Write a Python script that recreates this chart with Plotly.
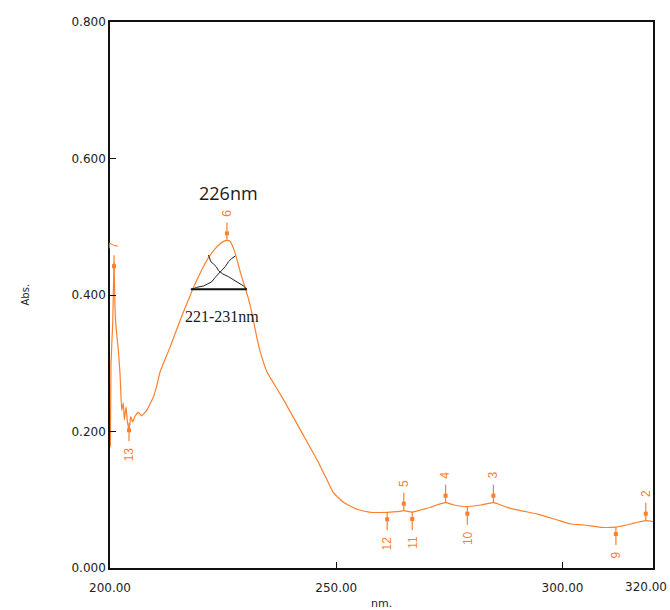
import plotly.graph_objects as go

# ---------------- data ----------------
wavelength = [200.0, 200.07, 200.22, 200.6, 200.89, 201.1, 201.33, 201.84, 202.2, 202.37,
              202.6, 202.94, 203.17, 203.54, 203.8, 204.2, 204.6, 205.0, 205.5, 206.3,
              207.0, 208.1, 209.6, 210.3, 211.1, 213.3, 215.5, 217.7, 218.44, 219.92,
              221.41, 222.87, 224.35, 225.2, 225.84, 226.5, 226.94, 227.67, 228.78, 229.89,
              230.62, 231.4, 232.5, 233.2, 234.7, 235.4, 238.4, 242.1, 245.8, 248.7,
              249.4, 251.65, 254.6, 257.6, 261.26, 263.47, 264.93, 266.79, 268.63, 270.84,
              271.58, 274.16, 276.0, 278.97, 281.91, 284.73, 287.82, 290.77, 294.5, 298.9,
              301.8, 304.8, 308.5, 311.8, 315.1, 316.6, 318.4, 320.0]
absorbance = [0.177, 0.180, 0.300, 0.359, 0.447, 0.382, 0.353, 0.319, 0.286, 0.261,
              0.231, 0.242, 0.217, 0.236, 0.217, 0.202, 0.222, 0.214, 0.222, 0.228,
              0.223, 0.231, 0.251, 0.266, 0.288, 0.324, 0.363, 0.399, 0.411, 0.432,
              0.451, 0.465, 0.475, 0.479, 0.480, 0.479, 0.474, 0.461, 0.434, 0.410,
              0.394, 0.372, 0.336, 0.317, 0.287, 0.279, 0.246, 0.202, 0.158, 0.119,
              0.110, 0.096, 0.086, 0.0816, 0.0816, 0.0825, 0.084, 0.082, 0.085, 0.089,
              0.0908, 0.0957, 0.0923, 0.0898, 0.0923, 0.0957, 0.0889, 0.084, 0.079, 0.0703,
              0.0645, 0.063, 0.0596, 0.060, 0.0645, 0.067, 0.0693, 0.0678]

# peak / valley picks (direction +1 = peak, -1 = valley)
pick_labels = ["2", "3", "4", "5", "6", "7", "9", "10", "11", "12", "13"]
pick_nm = [318.4, 284.73, 274.16, 264.93, 225.84, 200.89, 311.8, 278.97, 266.79, 261.26, 204.2]
pick_abs = [0.0693, 0.0957, 0.0957, 0.084, 0.480, 0.432, 0.060, 0.0898, 0.082, 0.0816, 0.212]
pick_dir = [1, 1, 1, 1, 1, 1, -1, -1, -1, -1, -1]

# bandwidth annotation (triangle) drawn by the instrument software
band_base_nm = [217.87, 230.26]
band_base_abs = [0.4084, 0.4084]
band_a_nm = [218.09, 219.19, 220.66, 221.41, 222.51, 223.25, 223.98, 224.73, 225.46, 226.19, 226.94, 227.67]
band_a_abs = [0.4084, 0.4113, 0.4132, 0.4161, 0.4194, 0.4259, 0.4308, 0.4366, 0.4415, 0.4488, 0.4538, 0.4571]
band_b_nm = [221.76, 222.29, 222.87, 223.47, 223.98, 224.95, 226.19, 227.3, 228.4, 229.51, 230.26]
band_b_abs = [0.4586, 0.4488, 0.4454, 0.4415, 0.4356, 0.4308, 0.4268, 0.4220, 0.4180, 0.4132, 0.4084]

x_ticks = [200, 250, 300, 320]
x_ticktext = ["200.00", "250.00", "300.00", "320.00"]
y_ticks = [0.0, 0.2, 0.4, 0.6, 0.8]
y_ticktext = ["0.000", "0.200", "0.400", "0.600", "0.800"]

# ---------------- layout constants ----------------
W, H = 670, 610
M_L, M_R, M_T, M_B = 110, 17, 22, 42
Y_RANGE = [0, 0.8]
X_RANGE = [200, 320]
plot_h = H - M_T - M_B
plot_w = W - M_L - M_R
units_per_px = (Y_RANGE[1] - Y_RANGE[0]) / plot_h

ORANGE = "#FF7F2A"
PIN_LEN = 18
MARK_OFF = 7
TICK_FONT = dict(family="DejaVu Sans", size=12, color="#222222")

fig = go.Figure()

fig.add_trace(go.Scatter(x=wavelength, y=absorbance, mode="lines",
                         line=dict(color=ORANGE, width=1.2, shape="spline", smoothing=0.4),
                         hoverinfo="skip"))

# pins
px_, py_ = [], []
mx, my = [], []
for n, a, d in zip(pick_nm, pick_abs, pick_dir):
    px_ += [n, n, None]
    py_ += [a, a + d * PIN_LEN * units_per_px, None]
    mx.append(n)
    my.append(a + d * MARK_OFF * units_per_px)
fig.add_trace(go.Scatter(x=px_, y=py_, mode="lines", line=dict(color=ORANGE, width=1.2),
                         hoverinfo="skip", connectgaps=False))
fig.add_trace(go.Scatter(x=mx, y=my, mode="markers",
                         marker=dict(symbol="square", size=4, color=ORANGE), hoverinfo="skip"))

# bandwidth triangle
fig.add_trace(go.Scatter(x=band_base_nm, y=band_base_abs, mode="lines",
                         line=dict(color="#111111", width=2), hoverinfo="skip"))
fig.add_trace(go.Scatter(x=band_a_nm, y=band_a_abs, mode="lines",
                         line=dict(color="#222222", width=1), hoverinfo="skip"))
fig.add_trace(go.Scatter(x=band_b_nm, y=band_b_abs, mode="lines",
                         line=dict(color="#222222", width=1), hoverinfo="skip"))

annotations = []
for lab, n, a, d in zip(pick_labels, pick_nm, pick_abs, pick_dir):
    annotations.append(dict(x=n, y=a, xref="x", yref="y", text=lab, showarrow=False,
                            textangle=-90, yanchor="bottom" if d > 0 else "top",
                            yshift=d * 22,
                            font=dict(family="Liberation Sans, Arial", size=12, color=ORANGE)))

annotations.append(dict(x=226.1, y=0.549, xref="x", yref="y", text="226nm", showarrow=False,
                        font=dict(family="Open Sans", size=18, color="#1a1a1a")))
annotations.append(dict(x=224.7, y=0.368, xref="x", yref="y", text="221-231nm", showarrow=False,
                        font=dict(family="Liberation Serif, Times New Roman", size=16, color="#1a1a1a")))
annotations.append(dict(x=(17 - M_L) / plot_w, y=0.5, xref="paper", yref="paper",
                        text="Abs.", showarrow=False, textangle=-90,
                        font=dict(family="DejaVu Sans", size=10, color="#222222")))
annotations.append(dict(x=0.5, y=-35 / plot_h, xref="paper", yref="paper", text="nm.",
                        showarrow=False, yanchor="middle",
                        font=dict(family="DejaVu Sans", size=11, color="#222222")))
# last x tick label, pushed left so it stays inside the page (as in the reference)
annotations.append(dict(x=1 + (M_R - 1) / plot_w, y=-19 / plot_h, xref="paper", yref="paper",
                        text=x_ticktext[-1], showarrow=False, xanchor="right", yanchor="middle",
                        font=TICK_FONT))

fig.update_layout(
    width=W, height=H,
    margin=dict(l=M_L, r=M_R, t=M_T, b=M_B, pad=0, autoexpand=False),
    paper_bgcolor="white", plot_bgcolor="white",
    showlegend=False,
    annotations=annotations,
    xaxis=dict(range=X_RANGE, tickvals=x_ticks, ticktext=x_ticktext[:-1] + [""], automargin=False,
               showgrid=False, zeroline=False, showline=True, mirror=True,
               linecolor="#111111", linewidth=1.5, ticks="inside", ticklen=6,
               tickcolor="#111111", tickwidth=1.2, ticklabeloverflow="allow",
               ticklabelstandoff=8, tickfont=TICK_FONT),
    yaxis=dict(range=Y_RANGE, tickvals=y_ticks, ticktext=y_ticktext, automargin=False,
               showgrid=False, zeroline=False, showline=True, mirror=True,
               linecolor="#111111", linewidth=1.5, ticks="inside", ticklen=6,
               tickcolor="#111111", tickwidth=1.2, tickfont=TICK_FONT),
)

fig.write_html("out.html")
